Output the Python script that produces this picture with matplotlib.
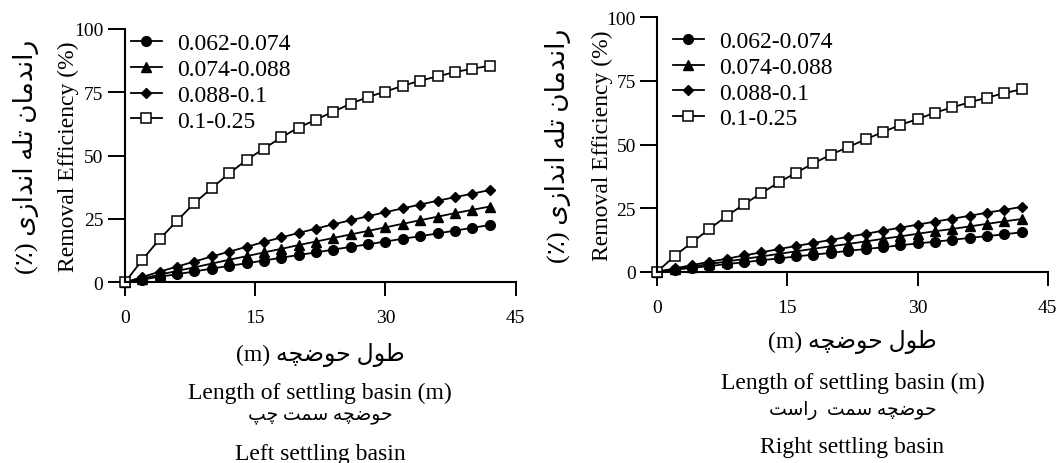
import matplotlib
matplotlib.use("Agg")
import matplotlib.pyplot as plt

plt.rcParams['font.family'] = ['Liberation Serif', 'DejaVu Sans']

# longueur du bassin (m)
longueur = [0, 2, 4, 6, 8, 10, 12, 14, 16, 18, 20, 22, 24, 26, 28, 30, 32, 34, 36, 38, 40, 42]

classes = ["0.062-0.074", "0.074-0.088", "0.088-0.1", "0.1-0.25"]

# bassin gauche
gauche_c1 = [0, 1.1, 2.2, 3.2, 4.3, 5.4, 6.5, 7.5, 8.6, 9.7, 10.8, 11.8, 12.9, 14.0, 15.0, 16.1, 17.2, 18.2, 19.3, 20.4, 21.5, 22.6]
gauche_c2 = [0, 1.5, 3.0, 4.5, 5.9, 7.4, 8.9, 10.3, 11.8, 13.2, 14.7, 16.1, 17.5, 18.9, 20.3, 21.7, 23.1, 24.5, 25.9, 27.3, 28.6, 29.9]
gauche_c3 = [0, 2.1, 4.2, 6.2, 8.2, 10.2, 12.1, 14.0, 15.9, 17.7, 19.5, 21.2, 22.9, 24.5, 26.1, 27.7, 29.2, 30.7, 32.2, 33.6, 35.0, 36.4]
gauche_c4 = [0, 8.9, 17.1, 24.3, 31.3, 37.2, 43.0, 48.3, 52.8, 57.2, 61.1, 64.2, 67.4, 70.5, 73.2, 75.3, 77.6, 79.6, 81.3, 83.0, 84.3, 85.5]

# bassin droit
droit_c1 = [0, 0.75, 1.5, 2.2, 3.0, 3.7, 4.5, 5.2, 6.0, 6.7, 7.4, 8.2, 8.9, 9.6, 10.4, 11.1, 11.8, 12.5, 13.3, 14.0, 14.7, 15.5]
droit_c2 = [0, 1.0, 2.0, 3.0, 4.0, 5.0, 6.0, 7.0, 8.0, 9.0, 10.0, 10.9, 11.9, 12.9, 13.9, 14.9, 15.9, 16.8, 17.8, 18.8, 19.8, 20.7]
droit_c3 = [0, 1.3, 2.6, 3.9, 5.1, 6.4, 7.6, 8.9, 10.1, 11.3, 12.5, 13.7, 14.9, 16.1, 17.3, 18.5, 19.7, 20.8, 22.0, 23.2, 24.3, 25.5]
droit_c4 = [0, 6.2, 11.5, 16.8, 21.9, 26.5, 30.9, 35.1, 38.9, 42.6, 46.0, 49.0, 52.0, 54.9, 57.7, 60.0, 62.5, 64.6, 66.6, 68.4, 70.2, 71.7]

# formes de presentation arabes : isolee, finale, initiale, mediane
FORMES = {
    'ا': ('\uFE8D', '\uFE8E', None, None),
    'ت': ('\uFE95', '\uFE96', '\uFE97', '\uFE98'),
    'ح': ('\uFEA1', '\uFEA2', '\uFEA3', '\uFEA4'),
    'د': ('\uFEA9', '\uFEAA', None, None),
    'ر': ('\uFEAD', '\uFEAE', None, None),
    'ز': ('\uFEAF', '\uFEB0', None, None),
    'س': ('\uFEB1', '\uFEB2', '\uFEB3', '\uFEB4'),
    'ض': ('\uFEBD', '\uFEBE', '\uFEBF', '\uFEC0'),
    'ط': ('\uFEC1', '\uFEC2', '\uFEC3', '\uFEC4'),
    'ل': ('\uFEDD', '\uFEDE', '\uFEDF', '\uFEE0'),
    'م': ('\uFEE1', '\uFEE2', '\uFEE3', '\uFEE4'),
    'ن': ('\uFEE5', '\uFEE6', '\uFEE7', '\uFEE8'),
    'ه': ('\uFEE9', '\uFEEA', '\uFEEB', '\uFEEC'),
    'و': ('\uFEED', '\uFEEE', None, None),
    'چ': ('\uFB7A', '\uFB7B', '\uFB7C', '\uFB7D'),
    'پ': ('\uFB56', '\uFB57', '\uFB58', '\uFB59'),
    'ی': ('\uFBFC', '\uFBFD', '\uFBFE', '\uFBFF'),
}


def farsi(s):
    # liaison des lettres puis ordre visuel (droite -> gauche)
    out = []
    for i, c in enumerate(s):
        if c not in FORMES:
            out.append(c)
            continue
        prev = s[i - 1] if i > 0 else ''
        nxt = s[i + 1] if i + 1 < len(s) else ''
        iso, fin, ini, med = FORMES[c]
        jp = prev in FORMES and FORMES[prev][2] is not None
        jn = ini is not None and nxt in FORMES
        if jp and jn:
            out.append(med)
        elif jp:
            out.append(fin)
        elif jn:
            out.append(ini)
        else:
            out.append(iso)
    return ''.join(reversed(out))


ylabel_fa = "(٪) " + farsi("راندمان تله اندازی")
xlabel_fa = "(m) " + farsi("طول حوضچه")
gauche_fa = farsi("حوضچه سمت چپ")
droit_fa = farsi("حوضچه سمت  راست")

W, H = 1057, 464
fig = plt.figure(figsize=(W / 100, H / 100), dpi=100)

styles = [
    dict(marker='o', ms=7, mfc='black'),
    dict(marker='^', ms=7.5, mfc='black'),
    dict(marker='D', ms=5.5, mfc='black'),
    dict(marker='s', ms=6.5, mfc='white', mew=1.1),
]


def panneau(ax, series, titre_fa, titre_en, ys, yc, ylab_x, leg_xy):
    for vals, lab, st in zip(series, classes, styles):
        ax.plot(longueur, vals, color='black', mec='black', lw=1.3, clip_on=False,
                label=lab, **st)
    ax.set_xlim(0, 45)
    ax.set_ylim(0, 100)
    ax.set_xticks([0, 15, 30, 45])
    ax.set_yticks([0, 25, 50, 75, 100])
    for s in ['top', 'right']:
        ax.spines[s].set_visible(False)
    for s in ['left', 'bottom']:
        ax.spines[s].set_linewidth(1.5)
    ax.tick_params(axis='y', length=12, width=1.4, pad=3.5, labelsize=14)
    ax.tick_params(axis='x', length=10, width=1.4, pad=9.5, labelsize=14)
    ax.legend(loc='upper left', bbox_to_anchor=leg_xy, frameon=False, fontsize=17,
              handlelength=1.3, handletextpad=0.65, labelspacing=0.18,
              borderaxespad=0, borderpad=0)

    # textes sous l'axe
    pos = ax.get_position()
    xc = (pos.x0 + pos.x1) / 2
    fig.text(xc, 1 - ys[0] / H, xlabel_fa, ha='center', va='center', fontsize=17)
    fig.text(xc, 1 - ys[1] / H, "Length of settling basin (m)", ha='center', va='center', fontsize=17)
    fig.text(xc, 1 - ys[2] / H, titre_fa, ha='center', va='center', fontsize=13.5)
    fig.text(xc, 1 - ys[3] / H, titre_en, ha='center', va='center', fontsize=17)

    # titres de l'axe y
    fig.text(ylab_x[0] / W, 1 - yc / H, "Removal Efficiency (%)", rotation=90,
             ha='center', va='center', fontsize=17)
    fig.text(ylab_x[1] / W, 1 - yc / H, ylabel_fa, rotation=90,
             ha='center', va='center', fontsize=19)


ax1 = fig.add_axes([125 / W, (H - 283.3) / H, 390.7 / W, 253.3 / H])
panneau(ax1, [gauche_c1, gauche_c2, gauche_c3, gauche_c4], gauche_fa, "Left settling basin",
        [355, 393, 416, 455], 156.5, (68, 26), (0.015, 0.985))

ax2 = fig.add_axes([657.3 / W, (H - 272.7) / H, 390.4 / W, 254.4 / H])
panneau(ax2, [droit_c1, droit_c2, droit_c3, droit_c4], droit_fa, "Right settling basin",
        [341.7, 383, 410.5, 448], 145.5, (602, 558), (0.04, 0.948))

fig.savefig("out.png", dpi=100)
